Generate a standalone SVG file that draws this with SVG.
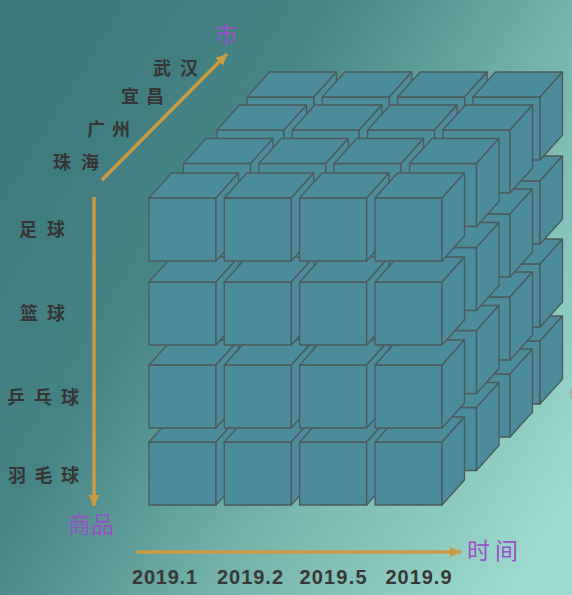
<svg xmlns="http://www.w3.org/2000/svg" xmlns:xlink="http://www.w3.org/1999/xlink" width="572" height="595" viewBox="0 0 572 595">
<defs>
<linearGradient id="bg" gradientUnits="userSpaceOnUse" x1="0" y1="150" x2="572" y2="500">
<stop offset="0" stop-color="#3d7a7d"/>
<stop offset="0.3" stop-color="#468486"/>
<stop offset="0.6" stop-color="#72b0a9"/>
<stop offset="1" stop-color="#9ddbd0"/>
</linearGradient>
<g id="cube" class="cube">
<path d="M0,0 h67 v63 h-67 z"/>
<path d="M0,0 l22.5,-25 h67 l-22.5,25 z"/>
<path d="M67,0 l22.5,-25 v63 l-22.5,25 z"/>
</g>
<marker id="ah" markerUnits="userSpaceOnUse" markerWidth="12" markerHeight="12" viewBox="0 0 12 12" refX="11" refY="6" orient="auto">
<path d="M0,0.5 L11,6 L0,11.5 z" fill="#cc9a40"/>
</marker>
</defs>
<style>
.cube path{fill:#4b8b9b;stroke:#4c585b;stroke-width:1.3;stroke-linejoin:round}
.axis{stroke:#cc9a40;stroke-width:3.5;fill:none}
.lbl{font-family:"Noto Sans CJK SC","Noto Sans",sans-serif;fill:#353535;font-size:18px;font-weight:600}
.ax{font-family:"Noto Sans CJK SC","Noto Sans",sans-serif;fill:#9652c4;font-size:23px}
.date{font-family:"Liberation Sans","DejaVu Sans",sans-serif;fill:#383838;font-size:20px;font-weight:600}
</style>
<rect width="572" height="595" fill="url(#bg)"/>
<ellipse cx="578" cy="393" rx="8" ry="10" fill="#b0aaa2" opacity="0.8"/>
<g id="cubes">
<g id="layer4">
<use xlink:href="#cube" x="247" y="341"/><use xlink:href="#cube" x="322.3" y="341"/><use xlink:href="#cube" x="397.6" y="341"/><use xlink:href="#cube" x="473" y="341"/>
<use xlink:href="#cube" x="247" y="264"/><use xlink:href="#cube" x="322.3" y="264"/><use xlink:href="#cube" x="397.6" y="264"/><use xlink:href="#cube" x="473" y="264"/>
<use xlink:href="#cube" x="247" y="181"/><use xlink:href="#cube" x="322.3" y="181"/><use xlink:href="#cube" x="397.6" y="181"/><use xlink:href="#cube" x="473" y="181"/>
<use xlink:href="#cube" x="247" y="97"/><use xlink:href="#cube" x="322.3" y="97"/><use xlink:href="#cube" x="397.6" y="97"/><use xlink:href="#cube" x="473" y="97"/>
</g>
<g id="layer3">
<use xlink:href="#cube" x="217" y="374"/><use xlink:href="#cube" x="292.3" y="374"/><use xlink:href="#cube" x="367.6" y="374"/><use xlink:href="#cube" x="443" y="374"/>
<use xlink:href="#cube" x="217" y="297"/><use xlink:href="#cube" x="292.3" y="297"/><use xlink:href="#cube" x="367.6" y="297"/><use xlink:href="#cube" x="443" y="297"/>
<use xlink:href="#cube" x="217" y="214"/><use xlink:href="#cube" x="292.3" y="214"/><use xlink:href="#cube" x="367.6" y="214"/><use xlink:href="#cube" x="443" y="214"/>
<use xlink:href="#cube" x="217" y="130"/><use xlink:href="#cube" x="292.3" y="130"/><use xlink:href="#cube" x="367.6" y="130"/><use xlink:href="#cube" x="443" y="130"/>
</g>
<g id="layer2">
<use xlink:href="#cube" x="183.5" y="407.5"/><use xlink:href="#cube" x="258.8" y="407.5"/><use xlink:href="#cube" x="334.1" y="407.5"/><use xlink:href="#cube" x="409.5" y="407.5"/>
<use xlink:href="#cube" x="183.5" y="330.5"/><use xlink:href="#cube" x="258.8" y="330.5"/><use xlink:href="#cube" x="334.1" y="330.5"/><use xlink:href="#cube" x="409.5" y="330.5"/>
<use xlink:href="#cube" x="183.5" y="247.5"/><use xlink:href="#cube" x="258.8" y="247.5"/><use xlink:href="#cube" x="334.1" y="247.5"/><use xlink:href="#cube" x="409.5" y="247.5"/>
<use xlink:href="#cube" x="183.5" y="163.5"/><use xlink:href="#cube" x="258.8" y="163.5"/><use xlink:href="#cube" x="334.1" y="163.5"/><use xlink:href="#cube" x="409.5" y="163.5"/>
</g>
<g id="layer1">
<use xlink:href="#cube" x="149" y="442"/><use xlink:href="#cube" x="224.3" y="442"/><use xlink:href="#cube" x="299.6" y="442"/><use xlink:href="#cube" x="375" y="442"/>
<use xlink:href="#cube" x="149" y="365"/><use xlink:href="#cube" x="224.3" y="365"/><use xlink:href="#cube" x="299.6" y="365"/><use xlink:href="#cube" x="375" y="365"/>
<use xlink:href="#cube" x="149" y="282"/><use xlink:href="#cube" x="224.3" y="282"/><use xlink:href="#cube" x="299.6" y="282"/><use xlink:href="#cube" x="375" y="282"/>
<use xlink:href="#cube" x="149" y="198"/><use xlink:href="#cube" x="224.3" y="198"/><use xlink:href="#cube" x="299.6" y="198"/><use xlink:href="#cube" x="375" y="198"/>
</g>
</g>
<g id="connectors">
<line class="axis" x1="102" y1="180" x2="227" y2="54" marker-end="url(#ah)"/>
<line class="axis" x1="94" y1="197" x2="94" y2="506" marker-end="url(#ah)"/>
<line class="axis" x1="136" y1="552" x2="461" y2="552" marker-end="url(#ah)"/>
</g>
<g id="axis-city">
<text class="ax" x="226" y="43" text-anchor="middle">市</text>
<text class="lbl" x="153" y="75" textLength="45">武汉</text>
<text class="lbl" x="121" y="103" textLength="43">宜昌</text>
<text class="lbl" x="87" y="136" textLength="43">广州</text>
<text class="lbl" x="53" y="169" textLength="46">珠海</text>
</g>
<g id="axis-goods">
<text class="lbl" x="19" y="236" textLength="46">足球</text>
<text class="lbl" x="20" y="320" textLength="45">篮球</text>
<text class="lbl" x="7" y="404" textLength="72">乒乓球</text>
<text class="lbl" x="8" y="482" textLength="71">羽毛球</text>
<text class="ax" x="91" y="533" text-anchor="middle" font-size="25">商品</text>
</g>
<g id="axis-time">
<text class="ax" x="467" y="559" textLength="51">时间</text>
<text class="date" x="132" y="584" textLength="65">2019.1</text>
<text class="date" x="217" y="584" textLength="66">2019.2</text>
<text class="date" x="299.5" y="584" textLength="67">2019.5</text>
<text class="date" x="385.5" y="584" textLength="66">2019.9</text>
</g>
</svg>
